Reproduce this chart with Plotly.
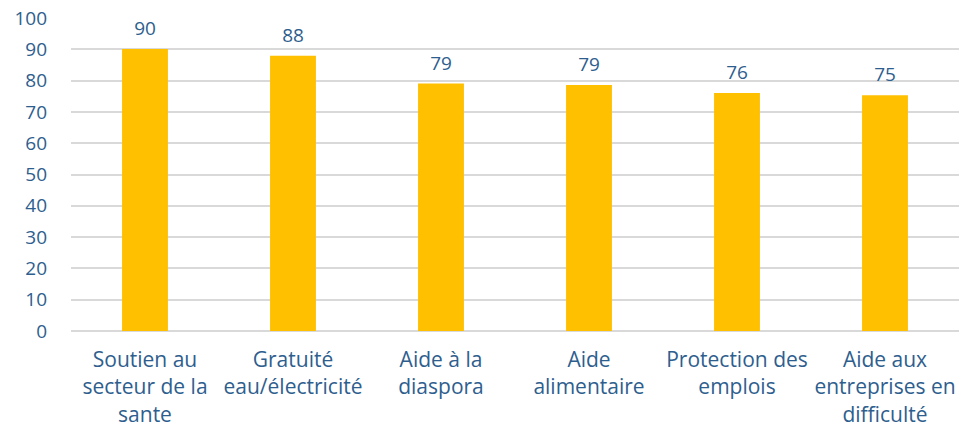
import plotly.graph_objects as go

categories = ["Soutien au<br>secteur de la<br>sante", "Gratuité<br>eau/électricité", "Aide à la<br>diaspora",
              "Aide<br>alimentaire", "Protection des<br>emplois", "Aide aux<br>entreprises en<br>difficulté"]
values = [90.1, 87.9, 79.1, 78.6, 76.0, 75.3]
y_ticks = list(range(0, 101, 10))

TXT = "#2E5E8E"
FONT = "Open Sans"

fig = go.Figure()
fig.add_trace(go.Bar(
    x=categories, y=values, width=0.31,
    marker=dict(color="#FFC000", line=dict(width=0)),
    hoverinfo="skip",
))
fig.add_trace(go.Scatter(
    x=categories, y=values, mode="markers+text",
    marker=dict(size=13, color="rgba(0,0,0,0)"),
    text=[f"{v:.0f}" for v in values], textposition="top center",
    textfont=dict(family=FONT, size=19, color=TXT),
    cliponaxis=False, hoverinfo="skip",
))
fig.update_layout(
    width=969, height=430,
    margin=dict(l=71, r=10, t=18, b=99),
    paper_bgcolor="white", plot_bgcolor="white",
    showlegend=False, bargap=0.69,
    font=dict(family=FONT, color=TXT),
)
fig.update_yaxes(range=[0, 100], tickvals=y_ticks, showgrid=True, gridcolor="#D9D9D9", gridwidth=2,
                 zeroline=True, zerolinecolor="#D9D9D9", zerolinewidth=2, automargin=False,
                 tickfont=dict(family=FONT, size=19, color=TXT), ticklabelstandoff=23, fixedrange=True)
fig.update_xaxes(tickfont=dict(family=FONT, size=21, color=TXT), showline=False, ticks="",
                 ticklabelstandoff=14, automargin=False, fixedrange=True)
fig.write_html("out.html", config={"displayModeBar": False},
               post_script="document.body.style.margin='0';document.body.style.overflow='hidden';")
